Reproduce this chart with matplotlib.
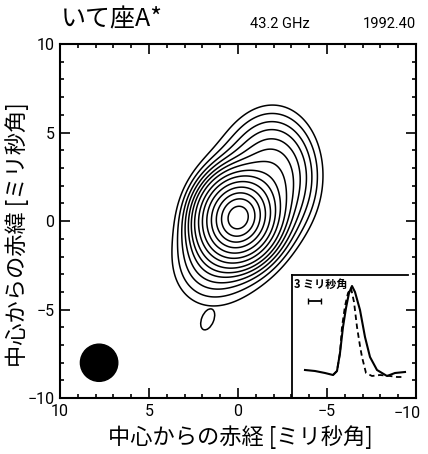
import matplotlib.pyplot as plt
import numpy as np
from matplotlib.patches import Ellipse
from matplotlib.ticker import MultipleLocator

plt.rcParams['font.family'] = ['Noto Sans CJK JP', 'DejaVu Sans']

# 電波像のモデル成分 (中心x, 中心y, 強度, 長軸σ, 短軸σ, 位置角[度])
comp_x = [0.0, -2.0, -0.3, 1.2]
comp_y = [0.2, 2.5, 0.6, -1.8]
comp_amp = [1.0, 0.07, 0.035, 0.03]
comp_smaj = [1.2, 1.8, 3.4, 1.5]
comp_smin = [1.05, 1.3, 2.0, 1.2]
comp_pa = [-15, 0, -22, -30]
levels = [0.012, 0.018, 0.026, 0.036, 0.05, 0.068, 0.095, 0.14, 0.2, 0.29, 0.41, 0.56, 0.73, 0.92]

# 目盛り
xticks = [10, 5, 0, -5]
xticklabels = ['10', '5', '0', '−5']
yticks = [-10, -5, 0, 5, 10]

# ビーム
beam_x, beam_y, beam_r = 7.8, -8.0, 1.05
# 孤立した小さな等高線
blob_x, blob_y, blob_w, blob_h, blob_ang = 1.7, -5.55, 1.25, 0.68, 112

# 挿入図のプロファイル
prof_x = [13, 23, 33, 41, 45, 48, 51, 54, 57, 60, 63, 68, 73, 78, 85, 95, 103, 113]
prof_y = [28, 27, 25, 23, 27, 45, 71, 90, 105, 112, 106, 88, 61, 41, 28, 22, 25, 26]
beam_prof_x = [41, 45, 48, 50, 53, 56, 59, 62, 65, 68, 70, 74, 80, 88, 98, 105, 112]
beam_prof_y = [23, 27, 45, 71, 92, 105, 110, 96, 71, 52, 41, 25, 22, 23, 22, 21, 21]

fig = plt.figure(figsize=(4.28, 4.54), dpi=100)
ax = fig.add_axes([0.140, 0.123, 0.832, 0.780])

x = np.linspace(-10, 10, 401)
X, Y = np.meshgrid(x, x)
Z = np.zeros_like(X)
for x0, y0, a0, sa, sb, pa in zip(comp_x, comp_y, comp_amp, comp_smaj, comp_smin, comp_pa):
    t = np.radians(pa)
    dx, dy = X - x0, Y - y0
    u = dx*np.sin(t) + dy*np.cos(t)
    v = dx*np.cos(t) - dy*np.sin(t)
    Z += a0*np.exp(-0.5*(u**2/sa**2 + v**2/sb**2))

ax.contour(X, Y, Z, levels=levels, colors='black', linewidths=1.1)
ax.add_patch(Ellipse((beam_x, beam_y), 2*beam_r, 2*beam_r, color='black'))
ax.add_patch(Ellipse((blob_x, blob_y), blob_w, blob_h, angle=blob_ang,
                     fill=False, color='black', lw=1.1))

ax.set_xlim(10, -10)
ax.set_ylim(-10, 10)
ax.set_xticks(xticks, xticklabels, fontfamily='Roboto', fontsize=11.5)
ax.set_yticks(yticks)
ax.xaxis.set_minor_locator(MultipleLocator(1))
ax.yaxis.set_minor_locator(MultipleLocator(1))
ax.tick_params(which='both', direction='in', top=True, right=True, width=1.2)
ax.tick_params(which='major', length=7, labelsize=11.5, pad=4)
ax.tick_params(which='minor', length=3)
for s in ax.spines.values():
    s.set_linewidth(1.5)
for label in ax.get_yticklabels():
    label.set_fontfamily('Roboto')
# 右端の-10は図の端に収まるよう少し内側へ
ax.plot([-10, -10], [10, 9.6], color='black', lw=1.2, clip_on=False)
ax.plot([-10, -10], [-10, -9.6], color='black', lw=1.2, clip_on=False)
ax.annotate('−10', xy=(-10, -10), xytext=(-6, -5.5), textcoords='offset points',
            ha='center', va='top', fontsize=11.5, family='Roboto',
            annotation_clip=False)

fig.text(240/428, 1-437/454, '中心からの赤経 [ミリ秒角]', fontsize=16,
         ha='center', va='center')
fig.text(17/428, 1-235/454, '中心からの赤緯 [ミリ秒角]', fontsize=16,
         ha='center', va='center', rotation=90)

fig.text(0.143, 0.958, 'いて座A*', fontsize=18, va='center')
fig.text(0.655, 0.948, '43.2 GHz', fontsize=10.5, va='center', ha='center',
         family='Roboto')
fig.text(0.972, 0.948, '1992.40', fontsize=10.5, va='center', ha='right',
         family='Roboto')

# 挿入図
ins = fig.add_axes([292/428, 1-398/454, 116/428, 123/454])
ins.plot(prof_x, prof_y, color='black', lw=1.5)
ins.plot(beam_prof_x, beam_prof_y, color='black', lw=1.3, ls=(0, (3, 2)))
ins.set_xlim(0, 116)
ins.set_ylim(0, 123)
ins.set_xticks([])
ins.set_yticks([])
ins.spines['right'].set_visible(False)
for s in ins.spines.values():
    s.set_linewidth(1.3)
ins.text(2, 114, '3 ミリ秒角', fontsize=8, fontweight='bold', va='center')
ins.errorbar([22.5], [97], xerr=[6.5], color='black', lw=1.3, capsize=2.5)
ins.patch.set_alpha(0)

fig.savefig('out.png', dpi=100)
